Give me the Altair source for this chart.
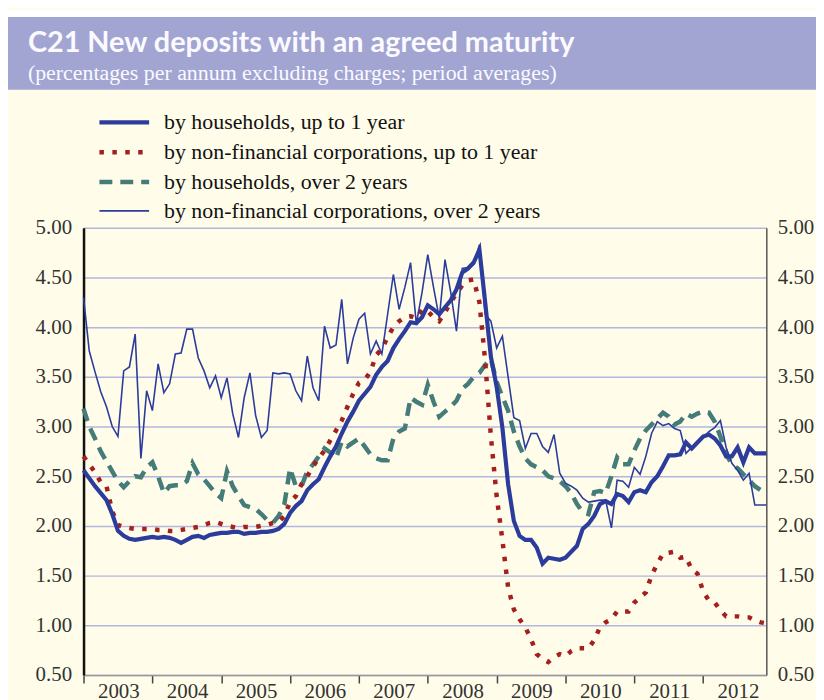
import altair as alt
import pandas as pd

# ---------------- data (monthly, Jan 2003 - Dec 2012) ----------------
years = list(range(2003, 2013))

hh_up_to_1y = [
    2.56, 2.48, 2.40, 2.33, 2.26, 2.12, 1.95, 1.90, 1.87, 1.86, 1.87, 1.88,
    1.89, 1.88, 1.89, 1.88, 1.86, 1.83, 1.86, 1.89, 1.90, 1.88, 1.91, 1.92,
    1.93, 1.93, 1.94, 1.94, 1.92, 1.93, 1.93, 1.94, 1.94, 1.95, 1.97, 2.02,
    2.13, 2.20, 2.25, 2.36, 2.42, 2.47, 2.59, 2.70, 2.80, 2.93, 3.05, 3.15,
    3.26, 3.33, 3.40, 3.52, 3.60, 3.66, 3.79, 3.88, 3.96, 4.05, 4.04, 4.10,
    4.22, 4.18, 4.13, 4.20, 4.27, 4.38, 4.55, 4.59, 4.65, 4.78, 4.25, 3.70,
    3.40, 2.99, 2.42, 2.05, 1.90, 1.86, 1.86, 1.78, 1.62, 1.68, 1.67, 1.66,
    1.68, 1.74, 1.80, 1.97, 2.02, 2.10, 2.22, 2.25, 2.22, 2.32, 2.30, 2.24,
    2.34, 2.36, 2.34, 2.44, 2.50, 2.60, 2.71, 2.71, 2.72, 2.84, 2.78, 2.84,
    2.90, 2.92, 2.88, 2.81, 2.70, 2.70, 2.79, 2.64, 2.79, 2.73, 2.73, 2.73,
]

nfc_up_to_1y = [
    2.70, 2.62, 2.54, 2.44, 2.40, 2.15, 2.01, 1.99, 1.98, 1.97, 1.97, 1.97,
    1.97, 1.96, 1.96, 1.95, 1.95, 1.96, 1.97, 1.98, 1.99, 2.01, 2.03, 2.04,
    2.02, 2.00, 1.99, 1.98, 1.99, 1.99, 1.99, 2.00, 2.01, 2.03, 2.04, 2.10,
    2.24, 2.30, 2.42, 2.50, 2.60, 2.68, 2.76, 2.86, 2.96, 3.06, 3.20, 3.33,
    3.44, 3.47, 3.55, 3.72, 3.78, 3.90, 4.00, 4.06, 4.10, 4.11, 4.09, 4.18,
    4.16, 4.10, 4.06, 4.15, 4.25, 4.34, 4.42, 4.47, 4.48, 4.25, 3.66, 2.90,
    2.30, 1.86, 1.38, 1.16, 1.06, 0.98, 0.86, 0.71, 0.66, 0.63, 0.68, 0.71,
    0.69, 0.74, 0.77, 0.77, 0.77, 0.85, 0.98, 1.03, 1.06, 1.14, 1.14, 1.14,
    1.23, 1.28, 1.33, 1.50, 1.62, 1.72, 1.73, 1.74, 1.68, 1.69, 1.56, 1.52,
    1.34, 1.25, 1.23, 1.15, 1.09, 1.09, 1.09, 1.08, 1.08, 1.05, 1.03, 1.02,
]

hh_over_2y = [
    3.18, 3.00, 2.88, 2.75, 2.65, 2.55, 2.45, 2.39, 2.45, 2.50, 2.49, 2.59,
    2.64, 2.50, 2.33, 2.40, 2.41, 2.41, 2.45, 2.63, 2.52, 2.47, 2.40, 2.33,
    2.28, 2.55, 2.40, 2.30, 2.21, 2.19, 2.17, 2.12, 2.06, 2.03, 2.10, 2.22,
    2.58, 2.40, 2.40, 2.55, 2.62, 2.70, 2.78, 2.74, 2.68, 2.85, 2.80, 2.84,
    2.88, 2.80, 2.72, 2.68, 2.66, 2.66, 2.88, 2.95, 2.98, 3.29, 3.25, 3.22,
    3.42, 3.25, 3.10, 3.15, 3.20, 3.26, 3.38, 3.43, 3.50, 3.54, 3.62, 3.68,
    3.45, 3.30, 3.16, 2.95, 2.80, 2.68, 2.62, 2.59, 2.56, 2.50, 2.48, 2.45,
    2.40, 2.33, 2.22, 2.14, 2.12, 2.34, 2.35, 2.33, 2.50, 2.69, 2.62, 2.62,
    2.76, 2.88, 2.96, 3.02, 3.08, 3.14, 3.10, 3.02, 3.05, 3.13, 3.10, 3.13,
    3.15, 3.14, 3.05, 2.90, 2.72, 2.62, 2.58, 2.52, 2.46, 2.40, 2.36, 2.34,
]

nfc_over_2y = [
    4.30, 3.76, 3.55, 3.35, 3.20, 3.00, 2.90, 3.56, 3.60, 3.93, 2.68, 3.36,
    3.16, 3.63, 3.34, 3.43, 3.73, 3.74, 3.98, 3.98, 3.69, 3.56, 3.39, 3.51,
    3.29, 3.49, 3.13, 2.89, 3.29, 3.54, 3.11, 2.89, 2.96, 3.54, 3.53, 3.54,
    3.53, 3.36, 3.26, 3.71, 3.39, 3.26, 4.01, 3.79, 3.82, 4.28, 3.63, 3.89,
    4.08, 4.14, 3.73, 3.86, 3.73, 4.13, 4.53, 4.18, 4.40, 4.65, 4.03, 4.35,
    4.73, 4.40, 4.09, 4.68, 4.35, 3.96, 4.59, 4.60, 4.63, 4.83, 4.13, 4.06,
    3.79, 3.91, 3.50, 3.09, 3.06, 2.78, 2.93, 2.93, 2.80, 2.74, 2.92, 2.53,
    2.43, 2.40, 2.36, 2.28, 2.24, 2.25, 2.26, 2.26, 1.98, 2.46, 2.45, 2.39,
    2.59, 2.52, 2.70, 2.93, 3.05, 3.01, 3.03, 2.98, 2.96, 2.73, 2.79, 2.85,
    2.89, 2.95, 2.99, 3.06, 2.79, 2.63, 2.56, 2.46, 2.53, 2.21, 2.21, 2.21,
]

series_names = [
    "by households, up to 1 year",
    "by non-financial corporations, up to 1 year",
    "by households, over 2 years",
    "by non-financial corporations, over 2 years",
]
y_ticks = [0.5, 1.0, 1.5, 2.0, 2.5, 3.0, 3.5, 4.0, 4.5, 5.0]

title_text = "C21 New deposits with an agreed maturity"
subtitle_text = "(percentages per annum excluding charges; period averages)"

# ---------------- table ----------------
n = len(hh_up_to_1y)
df = pd.DataFrame({
    "t": [2003 + i / 12 for i in range(n)],
    "hh1": hh_up_to_1y,
    "nfc1": nfc_up_to_1y,
    "hh2": hh_over_2y,
    "nfc2": nfc_over_2y,
})
one = pd.DataFrame({"k": [0]})

# ---------------- styles ----------------
W, H = 687, 450
BLUE = "#2B3C9C"
RED = "#A3201F"
TEAL = "#457C79"
GRID = "#B3B6DF"
CREAM = "#FFFDE9"
BAND = "#A2A5D2"
SERIF = "Liberation Serif"

styles = [
    dict(color=BLUE, strokeWidth=4.2),
    dict(color=RED, strokeWidth=4.5, strokeDash=[4.5, 8.5], strokeCap="butt"),
    dict(color=TEAL, strokeWidth=4.5, strokeDash=[13, 8], strokeCap="butt"),
    dict(color=BLUE, strokeWidth=1.6),
]

x_enc = alt.X(
    "t:Q",
    title=None,
    scale=alt.Scale(domain=[2003, df["t"].iloc[-1]], nice=False, zero=False),
    axis=alt.Axis(
        values=years, format="d", labelOffset=35, labelFlush=False,
        labelOverlap=False, tickSize=8, tickColor="#444", tickWidth=1.5,
        domainColor="#999", domainWidth=1.5, grid=False,
        labelFont=SERIF, labelFontSize=21, labelColor="#333", labelPadding=-2,
    ),
)
ysc = alt.Scale(domain=[0.5, 5.0], nice=False, zero=False)
left_axis = alt.Axis(
    values=y_ticks, format=".2f", orient="left", grid=True, gridColor=GRID,
    gridWidth=1.5, ticks=False, domainColor="#111", domainWidth=2.5,
    labelFont=SERIF, labelFontSize=21, labelColor="#333", labelPadding=12,
)
right_axis = alt.Axis(
    values=y_ticks, format=".2f", orient="right", grid=False, ticks=False,
    domainColor="#555", domainWidth=1.5,
    labelFont=SERIF, labelFontSize=21, labelColor="#333", labelPadding=11,
)

def line(field, style, axis):
    return alt.Chart(df).mark_line(**style).encode(
        x=x_enc, y=alt.Y(f"{field}:Q", title=None, scale=ysc, axis=axis)
    )

lines = [
    line("hh2", styles[2], left_axis),
    line("nfc1", styles[1], right_axis),
    line("nfc2", styles[3], None),
    line("hh1", styles[0], None),
]

# ---------------- decorations: header band, titles, legend ----------------
deco = [
    alt.Chart(one).mark_rect(color="white").encode(
        x=alt.value(-76), x2=alt.value(745), y=alt.value(-219), y2=alt.value(-212)),
    alt.Chart(one).mark_rect(color=BAND).encode(
        x=alt.value(-76), x2=alt.value(745), y=alt.value(-212), y2=alt.value(-139)),
    alt.Chart(one).mark_text(align="left", baseline="middle", font="Lato",
                             fontWeight="bold", fontSize=29, color="#FAFAFF").encode(
        x=alt.value(-56), y=alt.value(-186), text=alt.value(title_text)),
    alt.Chart(one).mark_text(align="left", baseline="middle", font=SERIF,
                             fontSize=22, color="#FAFAFF").encode(
        x=alt.value(-56), y=alt.value(-156), text=alt.value(subtitle_text)),
]
legend_rows = [-106, -76, -46, -17]
for name, style, yy in zip(series_names, styles, legend_rows):
    deco.append(alt.Chart(one).mark_rule(**style).encode(
        x=alt.value(16), x2=alt.value(66), y=alt.value(yy)))
    deco.append(alt.Chart(one).mark_text(align="left", baseline="middle", font=SERIF,
                                         fontSize=22, color="#111").encode(
        x=alt.value(81), y=alt.value(yy), text=alt.value(name)))

chart = alt.layer(*deco, *lines).resolve_scale(y="independent").properties(
    width=W, height=H,
    autosize=alt.AutoSizeParams(type="none"),
    padding={"left": 76, "top": 219, "right": 50, "bottom": 24},
    background=CREAM,
).configure_view(stroke=None)

chart.save("out.html", embed_options={"renderer": "svg", "actions": False})
